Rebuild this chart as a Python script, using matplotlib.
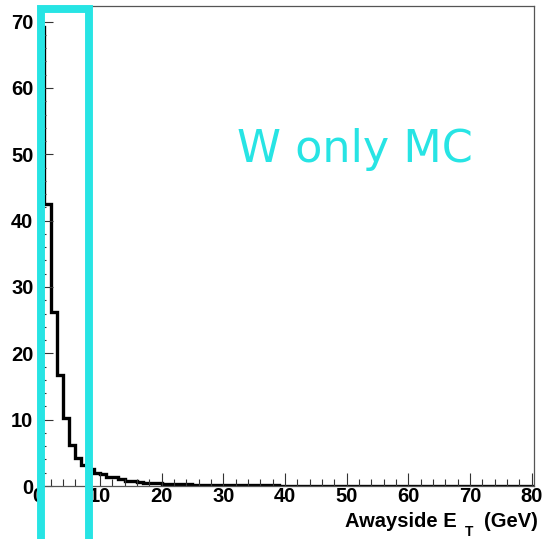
import numpy as np
import matplotlib
matplotlib.use("Agg")
import matplotlib.pyplot as plt
from matplotlib.patches import Rectangle
from matplotlib.ticker import MultipleLocator

plt.rcParams["font.family"] = ["Liberation Sans", "DejaVu Sans"]

# --- histogram contents, 1 GeV bins from 0 to 81 GeV ---
counts = [
    69.2, 42.5, 26.3, 16.7, 10.2, 6.2, 4.2, 3.2, 2.5, 1.9,
    1.8, 1.3, 1.3, 1.0, 0.8, 0.7, 0.6, 0.5, 0.45, 0.4,
    0.35, 0.32, 0.3, 0.27, 0.25, 0.22, 0.2, 0.18, 0.17, 0.15,
    0.14, 0.13, 0.12, 0.11, 0.1, 0.1, 0.09, 0.08, 0.08, 0.07,
    0.07, 0.06, 0.06, 0.05, 0.05, 0.05, 0.04, 0.04, 0.04, 0.04,
    0.03, 0.03, 0.03, 0.03, 0.03, 0.03, 0.02, 0.02, 0.02, 0.02,
    0.02, 0.02, 0.02, 0.02, 0.02, 0.01, 0.01, 0.01, 0.01, 0.01,
    0.01, 0.01, 0.01, 0.01, 0.01, 0.01, 0.01, 0.01, 0.01, 0.01,
    0.01,
]
bin_edges = np.arange(0, len(counts) + 1, 1.0)

x_range = (0, 80.3)
y_range = (0, 72.4)

# selection window drawn around the low-ET peak
box_lo, box_hi, box_top = 0.42, 8.2, 71.9
box_color = "#27E4E4"

label_text = "W only MC"

W, H = 544, 539
fig = plt.figure(figsize=(W / 100, H / 100), dpi=100)
ax = fig.add_axes([0.0704, 0.0983, 0.9103, 0.8911])

ax.stairs(counts, bin_edges, color="black", linewidth=2.4, baseline=0)

ax.set_xlim(*x_range)
ax.set_ylim(*y_range)

ax.xaxis.set_major_locator(MultipleLocator(10))
ax.xaxis.set_minor_locator(MultipleLocator(2))
ax.yaxis.set_major_locator(MultipleLocator(10))
ax.yaxis.set_minor_locator(MultipleLocator(2))

ax.tick_params(axis="x", which="major", direction="in", length=9.4, width=0.8,
               color="#333333", labelsize=14.5, pad=0.5)
ax.tick_params(axis="x", which="minor", direction="in", length=4.7, width=0.8,
               color="#333333")
ax.tick_params(axis="y", which="major", direction="in", length=10.8, width=0.8,
               color="#333333", labelsize=14.5, pad=3.5)
ax.tick_params(axis="y", which="minor", direction="in", length=5.8, width=0.8,
               color="#333333")
for lbl in ax.get_xticklabels() + ax.get_yticklabels():
    lbl.set_fontweight("bold")

for side in ["top", "right", "left", "bottom"]:
    ax.spines[side].set_color("#555555")
    ax.spines[side].set_linewidth(0.9)

# cyan window, open towards the bottom of the canvas
ax.add_patch(Rectangle((box_lo, -15), box_hi - box_lo, box_top + 15,
                       fill=False, edgecolor=box_color, linewidth=5.7,
                       joinstyle="miter", clip_on=False, zorder=5))

ax.text(51.3, 48.9, label_text, color=box_color, fontsize=32,
        family="DejaVu Sans", ha="center", va="baseline")

# x-axis title built from pieces so the T subscript sits low like TLatex
fig.text(538 / W, 12.3 / H, "(GeV)", ha="right", va="baseline",
         fontsize=14.5, fontweight="bold")
fig.text(469.5 / W, 2.5 / H, "T", ha="center", va="baseline",
         fontsize=10, fontweight="bold")
fig.text(457 / W, 12.3 / H, "Awayside E", ha="right", va="baseline",
         fontsize=14.5, fontweight="bold")

fig.savefig("out.png", dpi=100)
